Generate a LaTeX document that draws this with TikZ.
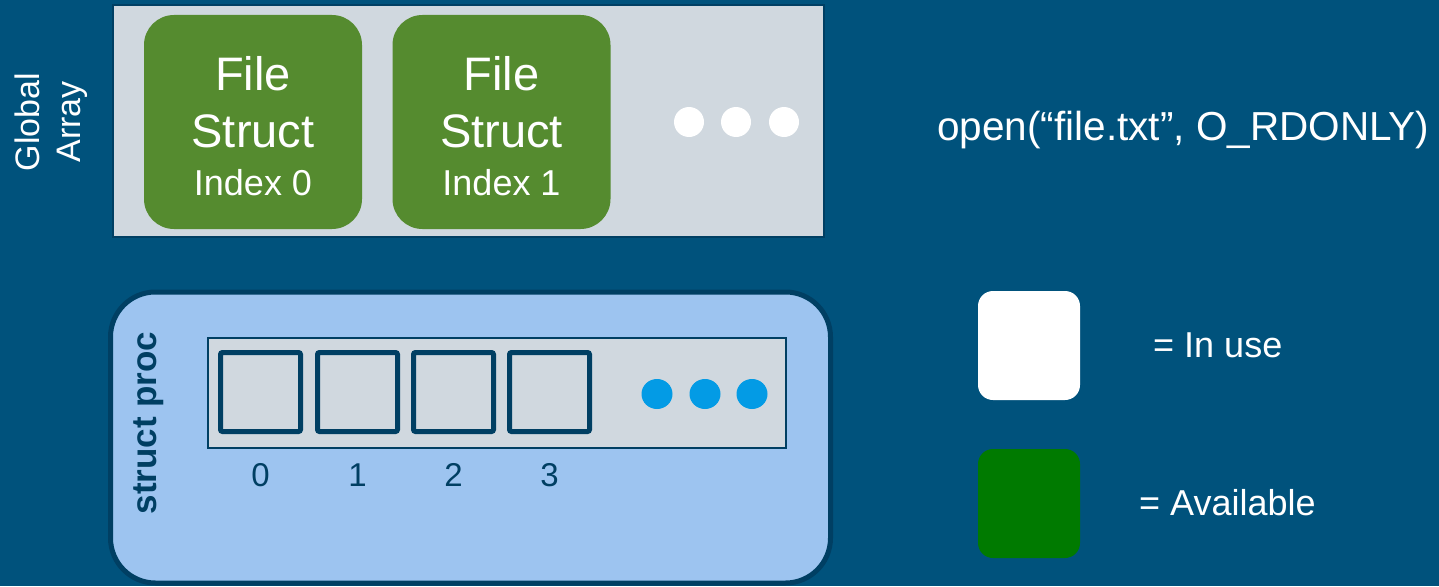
\documentclass[tikz,border=0pt]{standalone}
\usepackage{fontspec}
\setmainfont{Liberation Sans}
\definecolor{bg}{RGB}{0,82,124}
\definecolor{panelgray}{RGB}{208,216,223}
\definecolor{fsgreen}{RGB}{85,139,47}
\definecolor{procblue}{RGB}{157,196,240}
\definecolor{darkblue}{RGB}{0,63,99}
\definecolor{dotblue}{RGB}{3,155,229}
\definecolor{leggreen}{RGB}{0,122,0}
\newcommand{\fsz}[1]{\fontsize{#1}{#1}\selectfont}
\tikzset{
  graybox/.style={draw=darkblue, line width=1.5pt, fill=panelgray, inner sep=0pt},
  fsbox/.style={fill=fsgreen, rounded corners=30pt, minimum width=218pt, minimum height=214pt, inner sep=0pt},
  fsbig/.style={text=white, font=\fsz{47}, anchor=base, inner sep=0pt},
  fssmall/.style={text=white, font=\fsz{36}, anchor=base, inner sep=0pt},
  wdot/.style={circle, fill=white, minimum size=30pt, inner sep=0pt},
  bdot/.style={ellipse, fill=dotblue, minimum width=31pt, minimum height=30pt, inner sep=0pt},
  procbox/.style={draw=darkblue, line width=5pt, fill=procblue, rounded corners=45pt, minimum width=720pt, minimum height=291pt, inner sep=0pt},
  slot/.style={draw=darkblue, line width=5pt, rounded corners=2pt, minimum width=80pt, minimum height=79pt, inner sep=0pt},
  idx/.style={text=darkblue, font=\fsz{33}, inner sep=0pt},
  legbox/.style={rounded corners=15pt, minimum width=102pt, minimum height=109pt, inner sep=0pt},
  wtext/.style={text=white, anchor=base west, inner sep=0pt},
}
\usetikzlibrary{shapes.geometric}
\begin{document}
\begin{tikzpicture}[x=1pt,y=-1pt]
\fill[bg] (0,0) rectangle (1439,586);
\useasboundingbox (0,0) rectangle (1439,586);
% global array
\node[graybox, minimum width=711pt, minimum height=232pt] (ga) at (468.5,121) {};
\node[text=white, font=\fsz{34}, rotate=90, align=center, inner sep=0pt, execute at begin node={\baselineskip=41pt}] (galabel) at (51,122) {Global\\Array};
\node[fsbox] (fs0) at (253,122) {};
\node[fsbox] (fs1) at (501.5,122) {};
\node[fsbig] (fs0a) at (253,90) {File};
\node[fsbig] (fs0b) at (253,147) {Struct};
\node[fssmall] (fs0c) at (253,195) {Index 0};
\node[fsbig] (fs1a) at (501.5,90) {File};
\node[fsbig] (fs1b) at (501.5,147) {Struct};
\node[fssmall] (fs1c) at (501.5,195) {Index 1};
\node[wdot] (wd1) at (689,122) {};
\node[wdot] (wd2) at (736,122) {};
\node[wdot] (wd3) at (784,122) {};
% struct proc
\node[procbox] (proc) at (470.5,437.5) {};
\node[text=darkblue, font=\fsz{35}\bfseries, rotate=90, inner sep=0pt] (proclabel) at (149,423) {struct proc};
\node[graybox, minimum width=578pt, minimum height=110pt] (fdt) at (497,393) {};
\node[slot] (s0) at (260.5,392) {};
\node[slot] (s1) at (357.5,392) {};
\node[slot] (s2) at (453.5,392) {};
\node[slot] (s3) at (549.5,392) {};
\node[idx] (i0) at (260.5,475) {0};
\node[idx] (i1) at (357.5,475) {1};
\node[idx] (i2) at (453.5,475) {2};
\node[idx] (i3) at (549.5,475) {3};
\node[bdot] (bd1) at (657,394) {};
\node[bdot] (bd2) at (705,394) {};
\node[bdot] (bd3) at (752,394) {};
% right side
\node[wtext, font=\fsz{40.5}] (open) at (937,140) {open(“file.txt”, O\_RDONLY)};
\node[legbox, fill=white] (leg1) at (1029,345.5) {};
\node[legbox, fill=leggreen] (leg2) at (1029,503.5) {};
\node[wtext, font=\fsz{36}] (inuse) at (1153,357) {= In use};
\node[wtext, font=\fsz{36}] (avail) at (1139,515) {= Available};
\end{tikzpicture}
\end{document}
